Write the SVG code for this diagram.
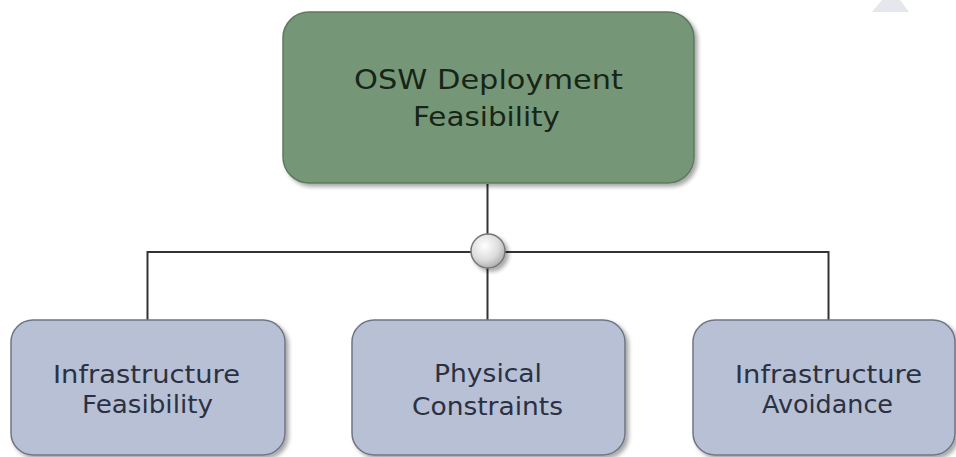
<svg xmlns="http://www.w3.org/2000/svg" width="956" height="457" viewBox="0 0 956 457">
<defs>
<filter id="sh" x="-10%" y="-10%" width="130%" height="130%">
<feGaussianBlur in="SourceAlpha" stdDeviation="2"/>
<feOffset dx="3" dy="3" result="b"/>
<feComponentTransfer><feFuncA type="linear" slope="0.35"/></feComponentTransfer>
<feMerge><feMergeNode/><feMergeNode in="SourceGraphic"/></feMerge>
</filter>
<radialGradient id="cg" cx="40%" cy="35%" r="70%">
<stop offset="0" stop-color="#ffffff"/>
<stop offset="0.6" stop-color="#dcdcdc"/>
<stop offset="1" stop-color="#a8a8a8"/>
</radialGradient>
</defs>
<style>
.top{fill:#759778;stroke:#5d7a5f;stroke-width:1.5}
.leaf{fill:#b7c0d5;stroke:#6f7585;stroke-width:1.5}
.t1{font-family:"DejaVu Sans",Verdana,sans-serif;font-size:27px;fill:#172517;text-anchor:middle}
.t2{font-family:"DejaVu Sans",Verdana,sans-serif;font-size:24.5px;fill:#2b3142;text-anchor:middle}
.ln{stroke:#333;stroke-width:2;fill:none}
</style>
<rect width="956" height="457" fill="#ffffff"/>
<polygon points="882,0 900,0 909,12 872,12" fill="#e5e7ec"/>
<g id="connectors">
<line class="ln" x1="487.5" y1="184" x2="487.5" y2="252"/>
<polyline class="ln" points="147.5,320 147.5,252 828.5,252 828.5,320"/>
<line class="ln" x1="487.5" y1="252" x2="487.5" y2="320"/>
</g>
<g id="junction">
<circle cx="488" cy="251" r="17" fill="url(#cg)" stroke="#777" stroke-width="1.5" filter="url(#sh)"/>
</g>
<g id="osw">
<rect class="top" x="283" y="12" width="411" height="171" rx="26" filter="url(#sh)"/>
<text class="t1" x="488.5" y="89" textLength="269" lengthAdjust="spacingAndGlyphs">OSW Deployment</text>
<text class="t1" x="486.5" y="126" textLength="147" lengthAdjust="spacingAndGlyphs">Feasibility</text>
</g>
<g id="infra-feas">
<rect class="leaf" x="11" y="320" width="274" height="135" rx="22" filter="url(#sh)"/>
<text class="t2" x="146.5" y="383" textLength="187" lengthAdjust="spacingAndGlyphs">Infrastructure</text>
<text class="t2" x="147.5" y="413" textLength="131" lengthAdjust="spacingAndGlyphs">Feasibility</text>
</g>
<g id="physical">
<rect class="leaf" x="352" y="320" width="273" height="135" rx="22" filter="url(#sh)"/>
<text class="t2" x="488" y="382" textLength="108" lengthAdjust="spacingAndGlyphs">Physical</text>
<text class="t2" x="487.5" y="415" textLength="151" lengthAdjust="spacingAndGlyphs">Constraints</text>
</g>
<g id="infra-avoid">
<rect class="leaf" x="693" y="320" width="262" height="135" rx="22" filter="url(#sh)"/>
<text class="t2" x="828.5" y="383" textLength="187" lengthAdjust="spacingAndGlyphs">Infrastructure</text>
<text class="t2" x="827.5" y="413" textLength="131" lengthAdjust="spacingAndGlyphs">Avoidance</text>
</g>
</svg>
